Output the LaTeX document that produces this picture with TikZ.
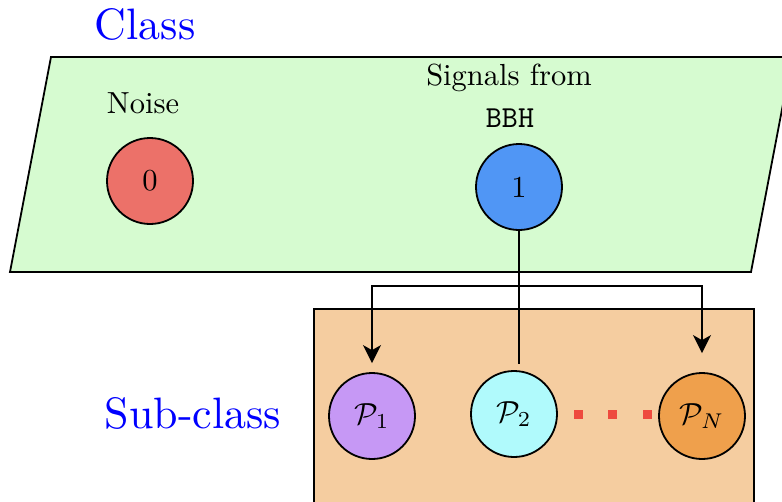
\documentclass[tikz,border=0pt]{standalone}
\usetikzlibrary{arrows.meta,calc}
\usepackage{graphicx}
\definecolor{classgreen}{HTML}{D6FBD0}
\definecolor{suborange}{HTML}{F5CDA0}
\definecolor{noisered}{HTML}{EC7169}
\definecolor{bbhblue}{HTML}{5096F5}
\definecolor{ponepurple}{HTML}{C698F5}
\definecolor{ptwocyan}{HTML}{B0FAFC}
\definecolor{pnorange}{HTML}{EFA04C}
\definecolor{dotred}{HTML}{EE4A3E}
% text set at 10pt and magnified, so the 10pt design of the font is kept
\newcommand{\magtxt}[1]{\scalebox{3.05}{#1}}
\newcommand{\headtxt}[1]{\scalebox{4.4}{#1}}
\tikzset{
  headtext/.style={text=blue, inner sep=0pt},
  plaintext/.style={inner sep=0pt},
  ball/.style={circle, draw=black, line width=1.8pt, minimum size=86pt, inner sep=0pt},
  link/.style={line width=1.6pt},
  dotbox/.style={fill=dotred, minimum size=9pt, inner sep=0pt},
}
\begin{document}
\begin{tikzpicture}[x=1pt,y=-1pt]
\useasboundingbox (0,0) rectangle (782,501);
\begin{scope}
  \clip (0,0) rectangle (782,501);
  % class panel
  \draw[line width=1.8pt, fill=classgreen] (51,57) -- (792,57) -- (751,272) -- (10,272) -- cycle;
  % sub-class panel
  \draw[line width=1.8pt, fill=suborange] (314,309) rectangle (754,530);
\end{scope}

\node[headtext] (classlbl) at (145,24) {\headtxt{Class}};
\node[headtext] (sublbl) at (193,413) {\headtxt{Sub-class}};

\node[plaintext] (noiselbl) at (143,103) {\magtxt{Noise}};
\node[plaintext] (siglbl) at (509,78) {\magtxt{Signals from}};
\node[plaintext] (bbhlbl) at (510,118) {\magtxt{\texttt{BBH}}};

\node[ball, fill=noisered] (c0) at (150,181) {\magtxt{0}};
\node[ball, fill=bbhblue] (c1) at (519,187) {\magtxt{1}};

\node[ball, fill=ponepurple] (p1) at (372,416) {\magtxt{$\mathcal{P}_1$}};
\node[ball, fill=ptwocyan] (p2) at (514,414) {\magtxt{$\mathcal{P}_2$}};
\node[ball, fill=pnorange] (pn) at (702,416) {\magtxt{$\mathcal{P}_N$}};

\node[dotbox] (d1) at (578,414) {};
\node[dotbox] (d2) at (612,414) {};
\node[dotbox] (d3) at (647,414) {};

% branching connectors
\coordinate (split) at ($(c1.south)+(0,55)$);
\draw[link] (c1.south) -- (split);
\draw[link, shorten >=6pt] (split) -- (split |- p2.north);
\draw[link, -{Stealth[length=18pt,width=18pt,inset=5pt]}, shorten >=9pt] (split) -| (p1.north);
\draw[link, -{Stealth[length=18pt,width=18pt,inset=5pt]}, shorten >=19pt] (split) -| (pn.north);
\end{tikzpicture}
\end{document}
